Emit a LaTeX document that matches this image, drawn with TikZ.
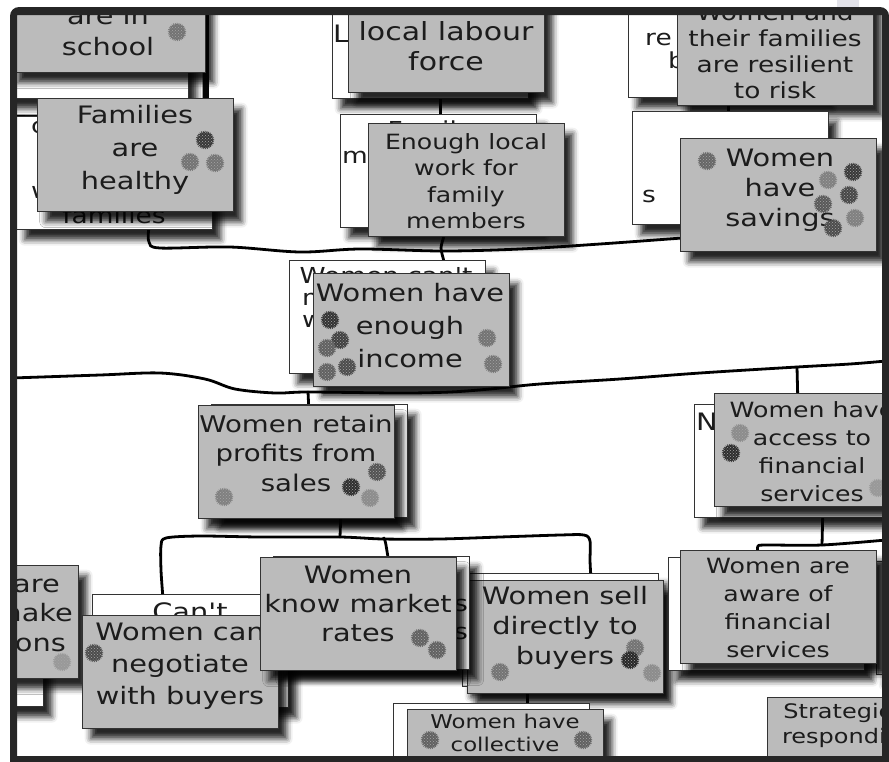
\documentclass[tikz,border=0pt]{standalone}
\usepackage{fontspec}
\newfontfamily\hand{DejaVu Sans}[FakeStretch=1.2]
\usetikzlibrary{shadows.blur,patterns}
\newcommand\fs[2]{\fontsize{#1}{#2}\selectfont}
\definecolor{framecol}{HTML}{262626}
\definecolor{bgcol}{HTML}{F7F7F7}
\definecolor{cardgrey}{HTML}{BBBBBB}
\definecolor{inkcol}{HTML}{1C1C1C}
\definecolor{edgecol}{HTML}{333333}
\definecolor{tabcol}{HTML}{E3E3EA}
\pgfdeclarelayer{background}
\pgfdeclarelayer{lines}
\pgfsetlayers{background,lines,main}
\tikzset{
  card/.style={draw=edgecol, line width=1.3pt, minimum width=196pt, minimum height=113pt,
    anchor=north west, inner sep=0pt,
    blur shadow={shadow xshift=8pt, shadow yshift=-10pt, shadow blur radius=6pt, shadow opacity=85}},
  backcard/.style={card, fill=white},
  frontcard/.style={card, fill=cardgrey},
  txt/.style={text=inkcol, align=center, inner sep=0pt},
  conn/.style={draw=black, line width=2.8pt, line cap=round, line join=round},
}
\newcommand\blob[3]{%
  \fill[black!#3] (#1,#2) circle (8pt);
  \fill[pattern=crosshatch dots, pattern color=white!65!black] (#1,#2) circle (8pt);
  \draw[black!#3, line width=1.6pt, dash pattern=on 0.7pt off 1.1pt] (#1,#2) circle (8.4pt);
}
\begin{document}
\begin{tikzpicture}[x=1pt,y=-1pt]
\useasboundingbox (0,0) rectangle (889,761);
\begin{pgfonlayer}{background}
  \fill[white] (0,0) rectangle (889,761);
  \fill[bgcol] (17,15) rectangle (882,756);
\end{pgfonlayer}

\begin{scope}
\clip (17,15) rectangle (882,756);

% --- school stack
\node[backcard] (schoolback) at (-8,-15) {};
\node[frontcard] (schoolfront) at (9,-41) {};
\node[txt, font=\hand\fs{24}{31}] (schooltxt) at (108,31) {are in\\school};
\blob{177}{32}{55}

% --- families stack
\node[backcard] (familiesback) at (16,116) {};
\node[txt, font=\hand\fs{22}{26}, anchor=west] (famc) at (31,127) {c};
\node[txt, font=\hand\fs{22}{26}, anchor=west] (famw) at (31,192) {w};
\node[txt, font=\hand\fs{22}{26}] (famfam) at (114,215) {families};
\node[frontcard] (familiesfront) at (37,98) {};
\node[txt, font=\hand\fs{24}{33}] (familiestxt) at (135,150) {Families\\are\\healthy};
\blob{205}{140}{78}\blob{190}{162}{55}\blob{215}{163}{55}

% --- labour stack
\node[backcard] (labourback) at (332,-15) {};
\node[txt, font=\hand\fs{24}{30}, anchor=base west] (labL) at (333,42) {L};
\node[frontcard] (labourfront) at (348,-21) {};
\node[txt, font=\hand\fs{25}{30}] (labourtxt) at (446,46) {local labour\\force};

% --- enough local work stack
\node[backcard] (enoughback) at (340,114) {};
\node[txt, font=\hand\fs{22}{26}] (enfam) at (430,131) {Family};
\node[txt, font=\hand\fs{22}{26}, anchor=west] (enm) at (342,157) {m};
\node[frontcard] (enoughfront) at (368,123) {};
\node[txt, font=\hand\fs{21}{26.5}] (enoughtxt) at (466,181) {Enough local\\work for\\family\\members};

% --- resilient stack
\node[backcard] (resilback) at (628,-16) {};
\node[txt, font=\hand\fs{22}{26}, anchor=west] (resre) at (645,39) {re};
\node[txt, font=\hand\fs{22}{26}, anchor=west] (resb) at (668,60) {b};
\node[frontcard] (resilfront) at (677,-8) {};
\node[txt, font=\hand\fs{22}{26}] (resiltxt) at (775,51) {Women and\\their families\\are resilient\\to risk};

% --- savings stack
\node[backcard] (savingsback) at (632,111) {};
\node[txt, font=\hand\fs{22}{26}, anchor=west] (savs) at (642,196) {s};
\node[frontcard] (savingsfront) at (680,138) {};
\node[txt, font=\hand\fs{24}{30}] (savingstxt) at (780,190) {Women\\have\\savings};
\blob{707}{161}{60}\blob{853}{172}{78}\blob{828}{180}{50}\blob{849}{195}{72}
\blob{823}{204}{65}\blob{855}{218}{50}\blob{833}{228}{70}

% --- income stack
\node[backcard] (incomeback) at (289,260) {};
\node[txt, font=\hand\fs{22}{26}] (incw) at (386,276) {Women can't};
\node[txt, font=\hand\fs{22}{26}, anchor=west] (incm) at (302,299) {m};
\node[txt, font=\hand\fs{22}{26}, anchor=west] (incw2) at (302,321) {w};
\node[frontcard] (incomefront) at (313,273) {};
\node[txt, font=\hand\fs{24}{33}] (incometxt) at (410,326) {Women have\\enough\\income};
\blob{330}{320}{80}\blob{340}{340}{75}\blob{327}{348}{62}\blob{327}{372}{62}
\blob{347}{367}{70}\blob{487}{338}{55}\blob{493}{364}{55}

% --- profits stack
\node[backcard] (profitsback) at (211,404) {};
\node[frontcard] (profitsfront) at (198,405) {};
\node[txt, font=\hand\fs{23}{29.5}] (profitstxt) at (296,453) {Women retain\\profits from\\sales};
\blob{224}{497}{50}\blob{377}{472}{68}\blob{351}{487}{82}\blob{370}{498}{45}

% --- left partial stack
\node[backcard] (leftback) at (-153,593) {};
\node[frontcard] (leftfront) at (-118,565) {};
\node[txt, font=\hand\fs{24}{28}, anchor=east] (lefta) at (60,584) {Women are};
\node[txt, font=\hand\fs{24}{28}, anchor=east] (leftb) at (73,613) {able to make};
\node[txt, font=\hand\fs{24}{28}, anchor=east] (leftc) at (66,643) {decisions};
\blob{62}{662}{40}

% --- negotiate stack
\node[backcard] (negotiateback) at (92,594) {};
\node[txt, font=\hand\fs{24}{30}] (negcant) at (190,612) {Can't};
\node[frontcard] (negotiatefront) at (82,615) {};
\node[txt, font=\hand\fs{24}{32}] (negotiatetxt) at (180,666) {Women can\\negotiate\\with buyers};
\blob{94}{653}{70}

% --- sell stack
\node[backcard] (sellback) at (462,573) {};
\node[frontcard] (sellfront) at (467,580) {};
\node[txt, font=\hand\fs{24}{30}] (selltxt) at (565,628) {Women sell\\directly to\\buyers};
\blob{500}{672}{55}\blob{635}{648}{55}\blob{630}{660}{85}\blob{652}{673}{45}

% --- market stack
\node[backcard] (marketback) at (273,556) {};
\node[txt, font=\hand\fs{22}{26}, anchor=east] (mks1) at (468,605) {s};
\node[txt, font=\hand\fs{22}{26}, anchor=east] (mks2) at (468,633) {s};
\node[frontcard] (marketfront) at (260,557) {};
\node[txt, font=\hand\fs{24}{29}] (markettxt) at (358,604) {Women\\know market\\rates};
\blob{420}{638}{62}\blob{437}{650}{62}

% --- collective stack
\node[backcard] (collectiveback) at (393,703) {};
\node[frontcard] (collectivefront) at (407,709) {};
\node[txt, font=\hand\fs{19}{23}] (collectivetxt) at (505,733) {Women have\\collective};
\blob{430}{740}{62}\blob{583}{740}{62}

% --- access stack
\node[backcard] (accessback) at (694,404) {};
\node[txt, font=\hand\fs{24}{28}, anchor=west] (accN) at (696,422) {N};
\node[frontcard] (accessfront) at (714,393) {};
\node[txt, font=\hand\fs{21}{28}] (accesstxt) at (812,452) {Women have\\access to\\financial\\services};
\blob{740}{433}{45}\blob{731}{453}{82}\blob{878}{488}{40}

% --- aware stack
\node[frontcard] (rightfront) at (876,561) {};
\node[backcard] (awareback) at (668,557) {};
\node[frontcard] (awarefront) at (680,550) {};
\node[txt, font=\hand\fs{21}{27.7}] (awaretxt) at (778,608) {Women are\\aware of\\financial\\services};

% --- strategies
\node[frontcard] (stratfront) at (767,697) {};
\node[txt, font=\hand\fs{20}{25}] (strattxt) at (865,725) {Strategies for\\responding to};
\end{scope}

% --- connectors
\begin{pgfonlayer}{lines}
\coordinate (fbA) at ([xshift=34pt]familiesback.south);
\coordinate (svL) at ([yshift=-43pt]savingsfront.west);
\draw[conn] plot[smooth, tension=0.55] coordinates {(fbA) (149,242) (160,248) (230,247) (300,252) (360,249) (443,251) (520,249) (600,244) (svL)};
\coordinate (enB) at ([xshift=-23pt]enoughfront.south);
\coordinate (inT) at ([xshift=56pt]incomeback.north);
\draw[conn] plot[smooth] coordinates {(enB) (441,248) (inT)};
\draw[conn] ([xshift=10pt]labourback.south) -- ([xshift=2pt]enoughback.north);
\draw[conn] ([xshift=2pt]resilback.south) -- ([xshift=-2pt]savingsback.north);

\coordinate (busL) at (12,378);
\coordinate (busR) at (886,361);
\coordinate (jP) at (308,392);
\coordinate (jA) at (797,367);
\draw[conn] plot[smooth, tension=0.55] coordinates {(busL) (100,375) (160,373) (205,379) (235,389) (275,393) (jP) (400,393) (450,392) (490,389) (540,384) (620,379) (700,373) (jA) (850,364) (busR)};
\draw[conn] (jP) -- ([xshift=12pt]profitsfront.north);
\draw[conn] (jA) -- ([xshift=-15pt]accessfront.north);

\coordinate (prB) at ([xshift=44pt]profitsfront.south);
\coordinate (jS) at (340,537);
\coordinate (jM) at (383,539);
\draw[conn] (prB) -- (jS);
\draw[conn] plot[smooth, tension=0.5] coordinates {([xshift=-28pt]negotiateback.north) (161,570) (161,546) (166,538) (200,536) (260,537) (jS) (jM) (440,539) (500,537) (560,535) (584,535) (590,541) (590,560) ([xshift=30pt]sellback.north)};
\draw[conn] (jM) to[out=70,in=-95] ([xshift=30pt]marketfront.north);
\draw[conn] ([xshift=-38pt]sellfront.south) -- ([xshift=36pt]collectiveback.north);

\coordinate (acB) at ([xshift=30pt]accessback.south);
\coordinate (jW) at (822,545);
\draw[conn] (acB) -- (jW);
\draw[conn] plot[smooth, tension=0.5] coordinates {([xshift=-21pt]awarefront.north) (758,546) (766,545) (jW) (886,540)};
\end{pgfonlayer}

% --- frame
\fill[framecol, even odd rule] [rounded corners=9pt] (10,7) rectangle (889,775) [sharp corners] (17,15) rectangle (882,756);
\fill[tabcol] (837,0) rectangle (859,7);
\end{tikzpicture}
\end{document}
